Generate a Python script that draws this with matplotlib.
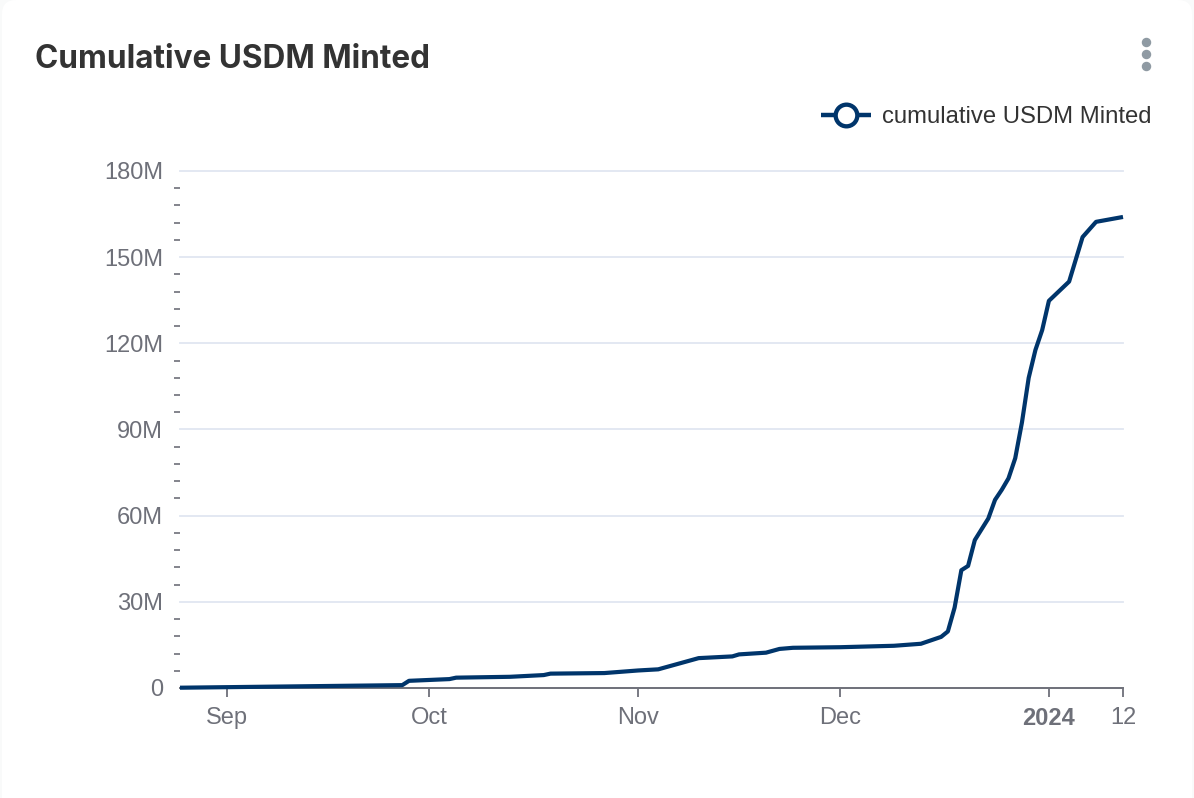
# -*- coding: utf-8 -*-
import matplotlib
matplotlib.use('Agg')
import matplotlib.pyplot as plt
import matplotlib.dates as mdates
from matplotlib.patches import FancyBboxPatch
from matplotlib.ticker import FixedLocator, FuncFormatter, MultipleLocator
import pandas as pd

# values, in millions
dates = ['2023-08-25', '2023-09-27', '2023-09-28', '2023-10-04', '2023-10-05',
         '2023-10-13', '2023-10-18', '2023-10-19', '2023-10-27', '2023-11-01',
         '2023-11-04', '2023-11-10', '2023-11-15', '2023-11-16', '2023-11-20',
         '2023-11-22', '2023-11-24', '2023-12-01', '2023-12-09', '2023-12-13',
         '2023-12-16', '2023-12-17', '2023-12-18', '2023-12-19', '2023-12-20',
         '2023-12-21', '2023-12-23', '2023-12-24', '2023-12-25', '2023-12-26',
         '2023-12-27', '2023-12-28', '2023-12-29', '2023-12-30', '2023-12-31',
         '2024-01-01', '2024-01-04', '2024-01-06', '2024-01-08', '2024-01-12']
minted = [0.1, 1.0, 2.5, 3.1, 3.6,
          3.9, 4.5, 5.0, 5.2, 6.1,
          6.5, 10.4, 11.0, 11.7, 12.3,
          13.6, 14.0, 14.2, 14.7, 15.4,
          17.8, 19.7, 28.0, 41.0, 42.5,
          51.5, 59.0, 65.5, 69.0, 73.0,
          80.0, 92.5, 108.0, 117.7, 124.6,
          134.8, 141.5, 157.0, 162.3, 164.0]

x_tick_dates = ['2023-09-01', '2023-10-01', '2023-11-01', '2023-12-01', '2024-01-01', '2024-01-12']
x_tick_labels = ['Sep', 'Oct', 'Nov', 'Dec', '2024', '12']

W, H = 1194, 798
GREY = '#6e7079'
NAVY = '#00356b'

plt.rcParams['font.family'] = ['Liberation Sans', 'DejaVu Sans']

fig = plt.figure(figsize=(W / 100, H / 100), dpi=100, facecolor='#f9fafa')

# white card behind everything
bg = fig.add_axes([0, 0, 1, 1], zorder=0)
bg.set_xlim(0, W)
bg.set_ylim(H, 0)
bg.axis('off')
bg.add_patch(FancyBboxPatch((2, 0), W - 4, H + 30, boxstyle='round,pad=0,rounding_size=14',
                            fc='white', ec='none'))

ax = fig.add_axes([180 / W, 1 - 688 / H, (1123 - 180) / W, (688 - 171) / H], zorder=1)
ax.patch.set_alpha(0)

x = pd.to_datetime(dates)
ax.plot(x, minted, color=NAVY, lw=3, solid_joinstyle='round', solid_capstyle='butt',
        zorder=3, clip_on=False)

ax.set_xlim(pd.Timestamp('2023-08-25'), pd.Timestamp('2024-01-12'))
ax.set_ylim(0, 180)

# y axis
ax.yaxis.set_major_locator(MultipleLocator(30))
ax.yaxis.set_minor_locator(MultipleLocator(6))
ax.yaxis.set_major_formatter(FuncFormatter(lambda v, p: '0' if v == 0 else '%dM' % v))
ax.tick_params(axis='y', which='major', length=0, pad=12, labelsize=17, labelcolor=GREY)
ax.tick_params(axis='y', which='minor', length=4, width=1.2, color=GREY)
ax.grid(axis='y', which='major', color='#e0e6f1', lw=1.3)
for g in ax.get_ygridlines():
    g.set_clip_on(False)  # top line was cut in half by the axes edge
ax.set_axisbelow(True)

# x axis
ax.xaxis.set_major_locator(FixedLocator(mdates.date2num(pd.to_datetime(x_tick_dates))))
ax.set_xticklabels(x_tick_labels)
ax.tick_params(axis='x', length=6.5, width=1.3, color=GREY, pad=7, labelsize=17, labelcolor=GREY)
ax.get_xticklabels()[4].set_fontweight('bold')

for s in ['top', 'right', 'left']:
    ax.spines[s].set_visible(False)
ax.spines['bottom'].set_color(GREY)
ax.spines['bottom'].set_linewidth(1.4)

# title, legend and menu dots placed in pixels
bg.text(35, 68, 'Cumulative USDM Minted', fontsize=22.7, fontweight='bold', color='#333333',
        family=['Inter', 'DejaVu Sans'], va='baseline', ha='left')
bg.plot([821, 871], [115, 115], color=NAVY, lw=3.2, solid_capstyle='butt')
bg.plot([846], [115], marker='o', ms=15.6, mfc='white', mec=NAVY, mew=3.1, ls='none')
bg.text(882, 123, 'cumulative USDM Minted', fontsize=17.2, color='#333333', va='baseline', ha='left')
bg.plot([1146, 1146, 1146], [42, 54, 66], marker='o', ms=5.8, color='#8f9aa3', ls='none')

fig.savefig('out.png', dpi=100, facecolor=fig.get_facecolor())
